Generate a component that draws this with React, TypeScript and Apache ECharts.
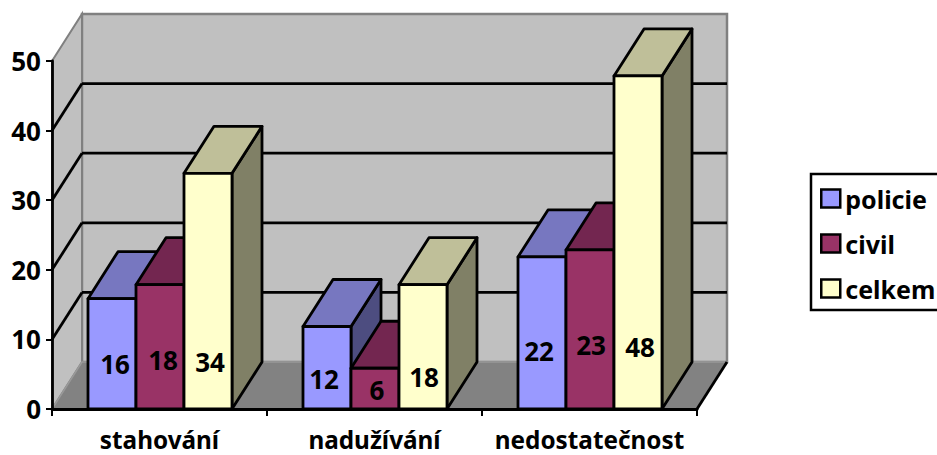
import React, { useEffect, useRef } from "react";
import * as echarts from "echarts";

const categories = ["stahování", "nadužívání", "nedostatečnost"];
const seriesNames = ["policie", "civil", "celkem"];
const policie = [16, 12, 22];
const civil = [18, 6, 23];
const celkem = [34, 18, 48];
const yTicks = [0, 10, 20, 30, 40, 50];

const fronts = ["#9999FF", "#993366", "#FFFFCC"];
const tops = ["#7777C0", "#732650", "#BFBF99"];
const sides = ["#4D4D80", "#4D1A33", "#808066"];

// layout of the hand-placed data labels: [dx from bar centre, px above base]
const labelLayout = [
  [[3, 45], [-3, 30], [-3, 58]],
  [[3, 49], [2, 19], [1, 64]],
  [[2, 47], [1, 32], [2, 62]],
];

const DX = 30;
const DY = -47;
const FONT = "'Noto Sans', sans-serif";
const GREY = "#808080";
const LINE = 2.8;

function renderWalls(params: any, api: any) {
  const cs = params.coordSys;
  const l = cs.x, r = cs.x + cs.width;
  const b = api.coord([0, 0])[1];
  const t = api.coord([0, 50])[1];
  const children: any[] = [
    { type: "polygon", shape: { points: [[l + DX, t + DY], [r + DX, t + DY], [r + DX, b + DY], [l + DX, b + DY]] }, style: { fill: "#C0C0C0", stroke: GREY, lineWidth: 2.5 } },
    { type: "polygon", shape: { points: [[l, t], [l + DX, t + DY], [l + DX, b + DY], [l, b]] }, style: { fill: "#C0C0C0", stroke: GREY, lineWidth: 2 } },
    { type: "polygon", shape: { points: [[l, b], [l + DX, b + DY], [r + DX, b + DY], [r, b]] }, style: { fill: "#828282", stroke: "#999999", lineWidth: 1.5 } },
    { type: "line", shape: { x1: r, y1: b, x2: r + DX, y2: b + DY }, style: { stroke: "#000", lineWidth: LINE } },
  ];
  yTicks.slice(1, -1).forEach((v) => {
    const y = api.coord([0, v])[1];
    children.push({ type: "line", shape: { x1: l, y1: y, x2: l + DX, y2: y + DY }, style: { stroke: "#000", lineWidth: LINE } });
    children.push({ type: "line", shape: { x1: l + DX, y1: y + DY, x2: r + DX, y2: y + DY }, style: { stroke: "#000", lineWidth: LINE } });
  });
  return { type: "group", children };
}

function makeBarRenderer(s: number) {
  return (params: any, api: any) => {
    const cat = api.value(0);
    const val = api.value(1);
    const band = api.size([1, 0])[0];
    const w = (band * 48) / 215;
    const center = api.coord([cat, 0])[0];
    const x0 = center + (s - 1.5) * w + 0.5;
    const x1 = x0 + w;
    const base = api.coord([cat, 0])[1];
    const top = api.coord([cat, val])[1] + 1;
    const stroke = { stroke: "#000", lineWidth: LINE, lineJoin: "round" };
    const [ldx, lh] = labelLayout[s][params.dataIndex];
    return {
      type: "group",
      children: [
        { type: "polygon", shape: { points: [[x1, top], [x1 + DX, top + DY], [x1 + DX, base + DY], [x1, base]] }, style: { fill: sides[s], ...stroke } },
        { type: "polygon", shape: { points: [[x0, top], [x0 + DX, top + DY], [x1 + DX, top + DY], [x1, top]] }, style: { fill: tops[s], ...stroke } },
        { type: "polygon", shape: { points: [[x0, base], [x0, top], [x1, top], [x1, base]] }, style: { fill: fronts[s], ...stroke } },
        { type: "text", style: { text: String(val), x: (x0 + x1) / 2 + ldx, y: base - lh, align: "center", verticalAlign: "middle", font: `bold 26px ${FONT}`, fill: "#000" } },
      ],
    };
  };
}

export default function App() {
  const ref = useRef<HTMLDivElement>(null);
  useEffect(() => {
    document.body.style.margin = "0";
    const chart = echarts.init(ref.current!, null, { renderer: "svg" });
    const values = [policie, civil, celkem];
    chart.setOption({
      animation: false,
      backgroundColor: "#fff",
      grid: { left: 52, right: 240, top: 61, bottom: 46 },
      xAxis: {
        type: "category",
        data: categories,
        z: 5,
        axisLine: { lineStyle: { color: "#000", width: LINE } },
        axisTick: { show: true, alignWithLabel: false, length: 7, lineStyle: { color: "#000", width: 2 } },
        axisLabel: { color: "#000", fontFamily: FONT, fontWeight: "bold", fontSize: 24.3, margin: 18, interval: 0 },
      },
      yAxis: {
        type: "value",
        min: 0,
        max: 50,
        interval: 10,
        z: 5,
        axisLine: { show: true, lineStyle: { color: "#000", width: LINE } },
        axisTick: { show: true, length: 6, lineStyle: { color: "#000", width: 2 } },
        axisLabel: { color: "#000", fontFamily: FONT, fontWeight: "bold", fontSize: 26, margin: 11, padding: [4, 0, 0, 0] },
        splitLine: { show: false },
      },
      legend: {
        data: seriesNames,
        orient: "vertical",
        left: 811,
        top: 174,
        padding: [12, 30, 9, 9],
        borderColor: "#000",
        borderWidth: 2.5,
        itemWidth: 19,
        itemHeight: 18,
        itemGap: 20,
        itemStyle: { borderColor: "#000", borderWidth: 2.5 },
        icon: "rect",
        textStyle: { color: "#000", fontFamily: FONT, fontWeight: "bold", fontSize: 25, lineHeight: 18 },
      },
      series: [
        { type: "custom", name: "walls", z: 1, silent: true, clip: false, renderItem: renderWalls, encode: { x: 0, y: 1 }, data: [[0, 0]] },
        ...seriesNames.map((name, s) => ({
          type: "custom",
          name,
          z: 2 + s,
          clip: false,
          renderItem: makeBarRenderer(s),
          encode: { x: 0, y: 1 },
          itemStyle: { color: fronts[s] },
          data: values[s].map((v, i) => [i, v]),
        })),
      ],
    });
    return () => chart.dispose();
  }, []);
  return <div ref={ref} style={{ position: "absolute", left: 0, top: 0, width: 937, height: 455 }} />;
}
